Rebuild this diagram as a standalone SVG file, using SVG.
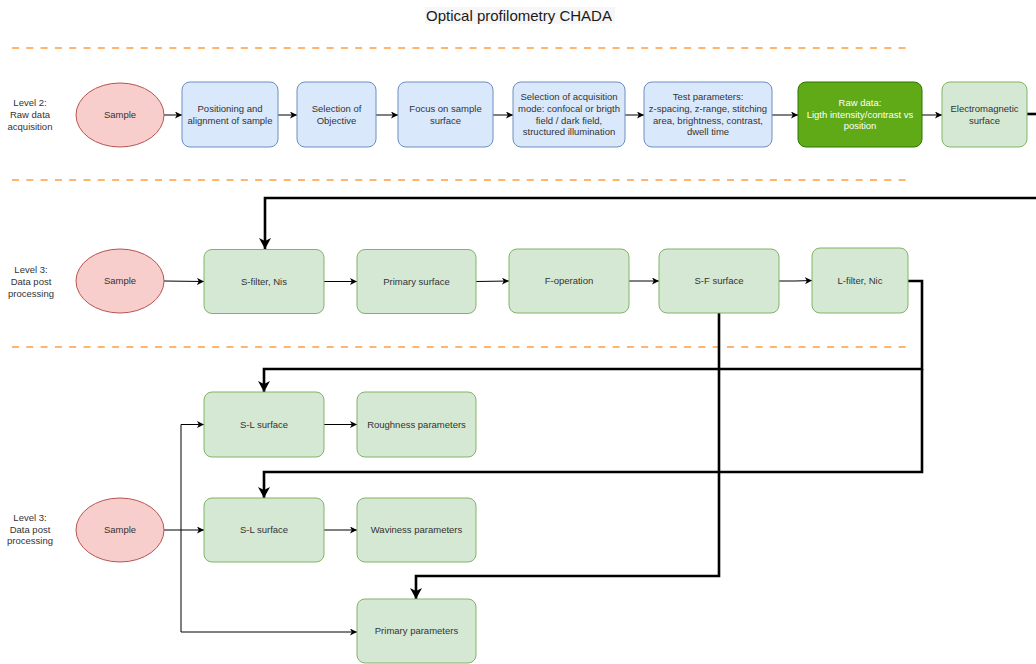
<svg xmlns="http://www.w3.org/2000/svg" width="1036" height="664" viewBox="0 0 1036 664">
<defs>
<style>
text{font-family:"Liberation Sans",Arial,Helvetica,sans-serif;font-size:9.5px;fill:#333333;text-anchor:middle}
.title{font-size:15px;fill:#1a1a1a}
.lbl{fill:#333333}
.blue{fill:#dae8fc;stroke:#6c8ebf;stroke-width:1}
.green{fill:#d5e8d4;stroke:#82b366;stroke-width:1}
.dark{fill:#60a917;stroke:#2d7600;stroke-width:1}
.red{fill:#f8cecc;stroke:#b85450;stroke-width:1}
.white{fill:#ffffff}
.sep{stroke:#ffb570;stroke-width:2;stroke-dasharray:7 7.3;fill:none}
.thin{stroke:#000;stroke-width:1;fill:none;marker-end:url(#a)}
.thick{stroke:#000;stroke-width:2.6;fill:none}
.thickA{stroke:#000;stroke-width:2.6;fill:none;marker-end:url(#b)}
</style>
<marker id="a" markerUnits="userSpaceOnUse" markerWidth="8" markerHeight="8" refX="7" refY="3.5" orient="auto">
<path d="M0,0 L7,3.5 L0,7 L1.8,3.5 z" fill="#000"/>
</marker>
<marker id="b" markerUnits="userSpaceOnUse" markerWidth="14" markerHeight="14" refX="11" refY="6" orient="auto">
<path d="M0,0 L11,6 L0,12 L3,6 z" fill="#000"/>
</marker>
</defs>
<rect width="1036" height="664" fill="#ffffff"/>
<rect x="425" y="7" width="190" height="17" fill="#f6f6f6"/>
<text class="title" x="519" y="21">Optical profilometry CHADA</text>
<g id="separators">
<line class="sep" x1="12" y1="48" x2="908" y2="48"/>
<line class="sep" x1="12" y1="180" x2="908" y2="180"/>
<line class="sep" x1="12" y1="347" x2="908" y2="347"/>
</g>
<g id="labels">
<text x="30" y="106.4">Level 2:</text>
<text x="30" y="118">Raw data</text>
<text x="30" y="129.6">acquisition</text>
<text x="31" y="273.4">Level 3:</text>
<text x="31" y="285">Data post</text>
<text x="31" y="296.6">processing</text>
<text x="30" y="521">Level 3:</text>
<text x="30" y="532.6">Data post</text>
<text x="30" y="544.2">processing</text>
</g>
<g id="connectors">
<line class="thin" x1="164" y1="115" x2="182" y2="115"/>
<line class="thin" x1="278" y1="115" x2="297" y2="115"/>
<line class="thin" x1="376" y1="115" x2="398" y2="115"/>
<line class="thin" x1="493" y1="115" x2="513" y2="115"/>
<line class="thin" x1="625" y1="115" x2="644" y2="115"/>
<line class="thin" x1="772" y1="115" x2="798" y2="115"/>
<line class="thin" x1="922" y1="115" x2="942" y2="115"/>
<line class="thick" x1="1027" y1="114" x2="1036" y2="114"/>
<polyline class="thickA" points="1036,198 265,198 265,249"/>
<line class="thin" x1="164" y1="281" x2="204" y2="281.5"/>
<line class="thin" x1="324" y1="281.5" x2="357" y2="281.5"/>
<line class="thin" x1="476" y1="281.5" x2="509" y2="281"/>
<line class="thin" x1="629" y1="281" x2="659" y2="281"/>
<polyline class="thin" points="779,281 795,281 812,280.5"/>
<polyline class="thickA" points="908,281 922,281 922,369 264,369 264,392"/>
<polyline class="thickA" points="922,369 922,472 264,472 264,498"/>
<polyline class="thickA" points="719,313 719,576 416,576 416,599"/>
<line class="thin" x1="164" y1="530" x2="204" y2="530"/>
<polyline class="thin" points="181,530 181,424.5 204,424.5"/>
<polyline class="thin" points="181,530 181,632 357,632"/>
<line class="thin" x1="324" y1="424.5" x2="357" y2="424.5"/>
<line class="thin" x1="324" y1="530" x2="357" y2="530"/>
</g>
<g id="sample1"><ellipse class="red" cx="120" cy="115" rx="44" ry="32"/><text x="120" y="118.4">Sample</text></g>
<g id="positioning"><rect class="blue" x="182" y="82" width="96" height="65" rx="8"/><text x="230" y="112">Positioning and</text><text x="230" y="124">alignment of sample</text></g>
<g id="objective"><rect class="blue" x="297" y="82" width="79" height="65" rx="8"/><text x="336.5" y="112">Selection of</text><text x="336.5" y="124">Objective</text></g>
<g id="focus"><rect class="blue" x="398" y="82" width="95" height="65" rx="8"/><text x="445.5" y="112">Focus on sample</text><text x="445.5" y="124">surface</text></g>
<g id="mode"><rect class="blue" x="513" y="82" width="112" height="65" rx="8"/><text x="569" y="100.4">Selection of acquisition</text><text x="569" y="112">mode: confocal or brigth</text><text x="569" y="123.6">field / dark field,</text><text x="569" y="135.2">structured illumination</text></g>
<g id="testparams"><rect class="blue" x="644" y="82" width="128" height="65" rx="8"/><text x="708" y="100.4">Test parameters:</text><text x="708" y="112">z-spacing, z-range, stitching</text><text x="708" y="123.6">area, brightness, contrast,</text><text x="708" y="135.2">dwell time</text></g>
<g id="rawdata"><rect class="dark" x="798" y="82" width="124" height="65" rx="8"/><text class="white" x="860" y="106">Raw data:</text><text class="white" x="860" y="117.6">Ligth intensity/contrast vs</text><text class="white" x="860" y="129.2">position</text></g>
<g id="electromagnetic"><rect class="green" x="942" y="82" width="85" height="65" rx="8"/><text x="984.5" y="112">Electromagnetic</text><text x="984.5" y="124">surface</text></g>
<g id="sample2"><ellipse class="red" cx="120" cy="281" rx="44" ry="32"/><text x="120" y="284.4">Sample</text></g>
<g id="sfilter"><rect class="green" x="204" y="249.5" width="120" height="64" rx="8"/><text x="264" y="284.9">S-filter, Nis</text></g>
<g id="primarysurface"><rect class="green" x="357" y="249.5" width="119" height="64" rx="8"/><text x="416.5" y="284.9">Primary surface</text></g>
<g id="foperation"><rect class="green" x="509" y="249" width="120" height="64" rx="8"/><text x="569" y="284.4">F-operation</text></g>
<g id="sfsurface"><rect class="green" x="659" y="249" width="120" height="64" rx="8"/><text x="719" y="284.4">S-F surface</text></g>
<g id="lfilter"><rect class="green" x="812" y="248" width="96" height="65" rx="8"/><text x="860" y="284">L-filter, Nic</text></g>
<g id="slsurface1"><rect class="green" x="204" y="392" width="120" height="65" rx="8"/><text x="264" y="427.9">S-L surface</text></g>
<g id="roughness"><rect class="green" x="357" y="392" width="119" height="65" rx="8"/><text x="416.5" y="427.9">Roughness parameters</text></g>
<g id="sample3"><ellipse class="red" cx="120" cy="530" rx="44" ry="32"/><text x="120" y="533.4">Sample</text></g>
<g id="slsurface2"><rect class="green" x="204" y="498" width="120" height="64" rx="8"/><text x="264" y="533.4">S-L surface</text></g>
<g id="waviness"><rect class="green" x="357" y="498" width="119" height="64" rx="8"/><text x="416.5" y="533.4">Waviness parameters</text></g>
<g id="primaryparams"><rect class="green" x="357" y="599" width="119" height="64" rx="8"/><text x="416.5" y="634.4">Primary parameters</text></g>
</svg>
